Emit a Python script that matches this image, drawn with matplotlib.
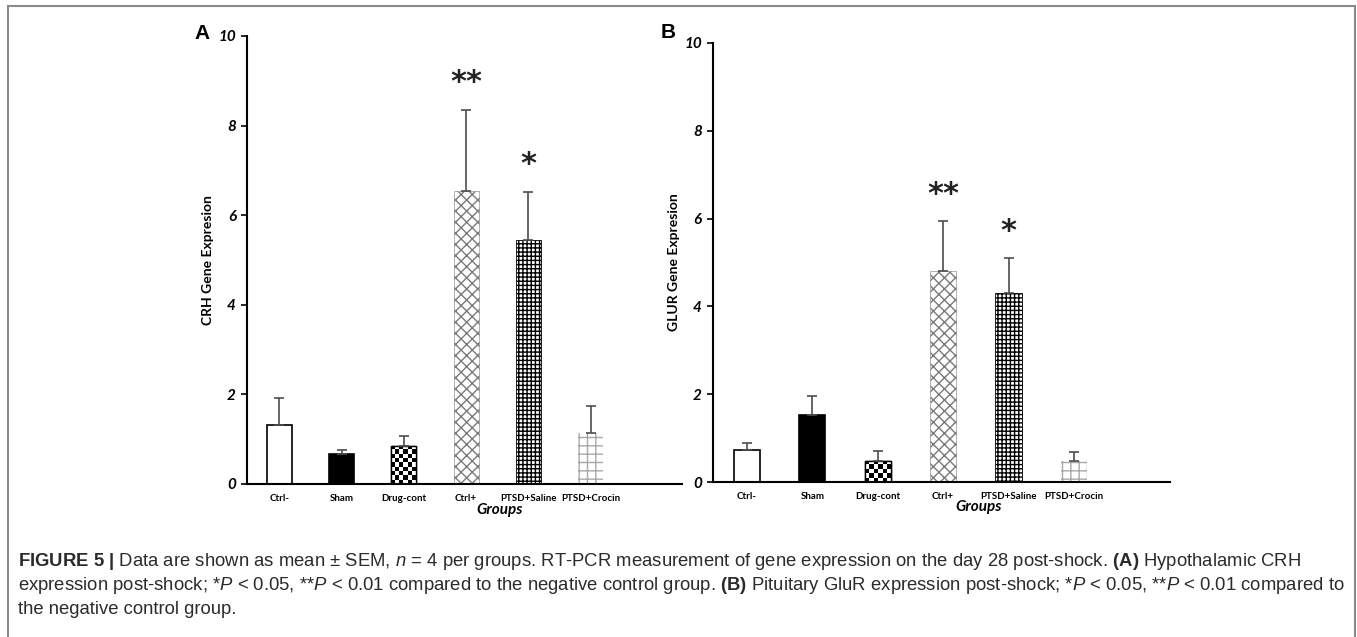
import numpy as np
import matplotlib
matplotlib.use('Agg')
import matplotlib.pyplot as plt
from matplotlib.patches import Rectangle
from matplotlib.transforms import blended_transform_factory

plt.rcParams['mathtext.fontset'] = 'custom'
plt.rcParams['mathtext.rm'] = 'Liberation Sans'
plt.rcParams['mathtext.it'] = 'Liberation Sans:italic'
plt.rcParams['mathtext.bf'] = 'Liberation Sans:bold'
plt.rcParams['hatch.linewidth'] = 1.0

groups = ['Ctrl-', 'Sham', 'Drug-cont', 'Ctrl+', 'PTSD+Saline', 'PTSD+Crocin']

# panel A: hypothalamic CRH
crh_mean = [1.32, 0.67, 0.85, 6.54, 5.45, 1.14]
crh_sem = [0.60, 0.09, 0.22, 1.81, 1.07, 0.61]
crh_stars = ['', '', '', '**', '*', '']

# panel B: pituitary GluR
glur_mean = [0.73, 1.53, 0.48, 4.80, 4.31, 0.48]
glur_sem = [0.16, 0.43, 0.23, 1.15, 0.79, 0.20]
glur_stars = ['', '', '', '**', '*', '']

yticks = [0, 2, 4, 6, 8, 10]

# fill, edge, hatch, edge width per group
styles = [
    ('white', 'black', None, 1.2),
    ('black', 'black', None, 1.2),
    ('white', 'black', 'checker', 1.0),
    ('white', '#7a7a7a', 'xxx', 0.4),
    ('white', 'black', '++++', 0.6),
    ('white', '#a8a8a8', '++', 0.0),
]

label_font = 'Lato'


def draw_panel(ax, means, sems, stars, ylabel):
    x = np.arange(len(groups))
    ax.set_xlim(-0.52, 6.47)
    ax.set_ylim(0, 10)
    for i, (fc, ec, hatch, lw) in enumerate(styles):
        h = None if hatch == 'checker' else hatch
        b = ax.bar(x[i], means[i], width=0.4, color=fc, edgecolor=ec,
                   hatch=h, linewidth=lw, zorder=2)[0]
        if hatch == 'checker':
            p0 = ax.transData.transform((b.get_x(), 0))
            p1 = ax.transData.transform((b.get_x() + b.get_width(), b.get_height()))
            ncol = 6
            cell = (p1[0] - p0[0]) / ncol
            nrow = max(1, int(round((p1[1] - p0[1]) / cell)))
            board = np.indices((nrow, ncol)).sum(axis=0) % 2
            im = ax.imshow(board, cmap='gray', interpolation='nearest', aspect='auto',
                           extent=(b.get_x(), b.get_x() + b.get_width(), 0, b.get_height()),
                           zorder=2.5)
            im.set_clip_path(b)
            ax.bar(x[i], means[i], width=0.4, color='none', edgecolor='black',
                   linewidth=lw, zorder=3)
    ax.set_xlim(-0.52, 6.47)
    ax.set_ylim(0, 10)
    ax.errorbar(x, means, yerr=[np.zeros(len(sems)), sems], fmt='none',
                ecolor='#4d4d4d', elinewidth=1.2, capsize=3.6, capthick=1.2, zorder=4)
    for i, s in enumerate(stars):
        if s:
            ax.text(x[i], means[i] + sems[i] + 0.28, s, ha='center', va='bottom',
                    fontsize=22, fontweight='bold', family='DejaVu Sans', color='#222222')

    ax.spines['top'].set_visible(False)
    ax.spines['right'].set_visible(False)
    ax.spines['left'].set_linewidth(1.5)
    ax.spines['bottom'].set_linewidth(1.5)
    ax.set_yticks(yticks)
    ax.set_yticklabels([str(t) for t in yticks], fontsize=11, fontweight='bold',
                       style='italic', family=label_font)
    ax.tick_params(axis='y', direction='out', length=4, width=1.2, pad=4)
    ax.set_xticks(x)
    ax.set_xticklabels(groups, fontsize=7, fontweight='bold', family=label_font)
    ax.tick_params(axis='x', length=0, pad=7)
    ax.set_ylabel(ylabel, fontsize=10, fontweight='bold', family=label_font, labelpad=3)
    tr = blended_transform_factory(ax.transData, ax.transAxes)
    ax.text(3.54, -0.058, 'Groups', transform=tr, ha='center', va='center',
            fontsize=11, fontweight='bold', style='italic', family=label_font)


fig = plt.figure(figsize=(13.57, 6.37), dpi=100)

axA = fig.add_axes([0.182, 0.2402, 0.3206, 0.7033])
draw_panel(axA, crh_mean, crh_sem, crh_stars, 'CRH Gene Expresion')

axB = fig.add_axes([0.5254, 0.2433, 0.3368, 0.6892])
draw_panel(axB, glur_mean, glur_sem, glur_stars, 'GLUR Gene Expresion')

fig.text(0.1489, 0.948, 'A', fontsize=15, fontweight='bold', family='Liberation Sans',
         ha='center', va='center')
fig.text(0.4923, 0.9497, 'B', fontsize=15, fontweight='bold', family='Liberation Sans',
         ha='center', va='center')

# outer frame
fig.add_artist(Rectangle((0.0059, -0.02), 0.9926, 1.0106, transform=fig.transFigure,
                         fill=False, edgecolor='#8a8a8a', linewidth=1.5))

cap_kw = dict(fontsize=13.3, family='Liberation Sans', color='#2b2b2b', va='center', ha='left')
line1 = (r'$\mathbf{FIGURE\ 5\ |}$ Data are shown as mean $\pm$ SEM, $\mathit{n}$ = 4 per groups. '
         r'RT-PCR measurement of gene expression on the day 28 post-shock. '
         r'$\mathbf{(A)}$ Hypothalamic CRH')
line2 = (r'expression post-shock; *$\mathit{P}$ < 0.05, **$\mathit{P}$ < 0.01 compared to the negative control group. '
         r'$\mathbf{(B)}$ Pituitary GluR expression post-shock; *$\mathit{P}$ < 0.05, **$\mathit{P}$ < 0.01 compared to')
line3 = 'the negative control group.'
fig.text(18 / 1357, 1 - 562 / 637, line1, **cap_kw)
fig.text(18 / 1357, 1 - 586 / 637, line2, **cap_kw)
fig.text(18 / 1357, 1 - 609 / 637, line3, **cap_kw)

fig.savefig('out.png', dpi=100)
